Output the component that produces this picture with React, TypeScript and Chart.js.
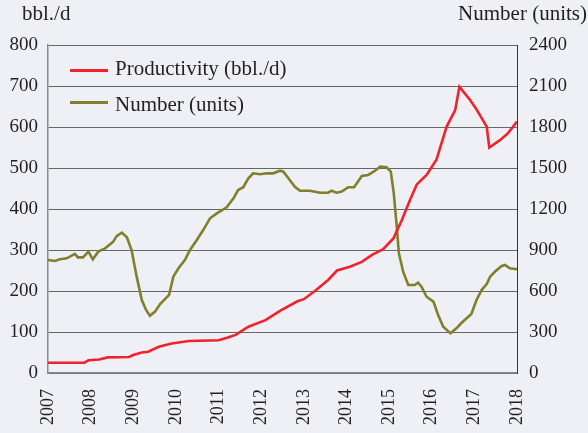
import React, { useEffect, useRef } from "react";
import { Chart, registerables } from "chart.js";

Chart.register(...registerables);

const FONT = "'Liberation Serif', 'Times New Roman', serif";
const TEXT = "#231f20";
const BG = "#eff0f5";
const RED = "#f0222b";
const OLIVE = "#7f7f2c";

const seriesLabels = ["Productivity (bbl./d)", "Number (units)"];
const leftTitle = "bbl./d";
const rightTitle = "Number (units)";

const prodYears = [
  2007.0, 2007.85, 2007.95, 2008.2, 2008.4, 2008.9, 2009.0, 2009.2, 2009.35, 2009.6,
  2009.9, 2010.3, 2011.0, 2011.2, 2011.4, 2011.7, 2012.1, 2012.45, 2012.85, 2013.0,
  2013.26, 2013.57, 2013.78, 2014.08, 2014.36, 2014.6, 2014.86, 2015.1, 2015.3, 2015.49,
  2015.65, 2015.88, 2016.11, 2016.35, 2016.55, 2016.65, 2016.9, 2017.05, 2017.29, 2017.35,
  2017.6, 2017.79, 2018.0,
];
const prodValues = [
  25, 25, 31, 33, 38, 39, 44, 50, 52, 64,
  72, 78, 80, 86, 93, 113, 129, 152, 175, 180,
  200, 227, 250, 259, 271, 288, 302, 328, 373, 422,
  460, 483, 520, 601, 641, 698, 666, 643, 601, 550,
  568, 585, 613,
];

const numYears = [
  2007.0, 2007.16, 2007.28, 2007.44, 2007.63, 2007.7, 2007.82, 2007.95, 2008.05, 2008.18,
  2008.34, 2008.53, 2008.61, 2008.73, 2008.85, 2008.96, 2009.08, 2009.2, 2009.3, 2009.39,
  2009.51, 2009.63, 2009.84, 2009.94, 2010.06, 2010.21, 2010.33, 2010.49, 2010.64, 2010.8,
  2010.96, 2011.19, 2011.35, 2011.46, 2011.58, 2011.7, 2011.81, 2011.97, 2012.13, 2012.28,
  2012.44, 2012.52, 2012.67, 2012.79, 2012.91, 2013.14, 2013.38, 2013.57, 2013.65, 2013.77,
  2013.89, 2014.04, 2014.18, 2014.36, 2014.51, 2014.67, 2014.79, 2014.94, 2015.04, 2015.11,
  2015.18, 2015.23, 2015.33, 2015.45, 2015.6, 2015.68, 2015.76, 2015.88, 2016.04, 2016.15,
  2016.27, 2016.44, 2016.58, 2016.69, 2016.93, 2017.05, 2017.17, 2017.29, 2017.37, 2017.48,
  2017.64, 2017.72, 2017.83, 2018.0,
];
const numValues = [
  827, 820, 832, 839, 871, 846, 846, 888, 832, 888,
  912, 961, 1002, 1027, 993, 900, 705, 534, 461, 419,
  449, 505, 571, 705, 766, 827, 900, 973, 1046, 1132,
  1168, 1212, 1278, 1339, 1359, 1424, 1461, 1454, 1461, 1461,
  1480, 1473, 1412, 1363, 1334, 1334, 1319, 1319, 1334, 1319,
  1327, 1359, 1359, 1441, 1449, 1480, 1510, 1505, 1473, 1315,
  1071, 876, 741, 644, 644, 661, 631, 558, 522, 424,
  339, 290, 327, 364, 432, 534, 607, 651, 705, 741,
  783, 790, 766, 759,
];

const xMin = 2007;
const xMax = 2018;
const leftMax = 800;
const leftStep = 100;
const rightMax = 2400;
const rightStep = 300;

export default function App() {
  const canvasRef = useRef<HTMLCanvasElement | null>(null);

  useEffect(() => {
    const canvas = canvasRef.current;
    if (!canvas) return;
    const tickFont = { family: FONT, size: 19 };
    const plain = (v: any) => String(v);
    const chart = new Chart(canvas, {
      type: "line",
      data: {
        datasets: [
          {
            label: seriesLabels[0],
            data: prodYears.map((x, i) => ({ x, y: prodValues[i] })),
            borderColor: RED,
            backgroundColor: RED,
            borderWidth: 2.6,
            pointRadius: 0,
            tension: 0,
            yAxisID: "y",
          },
          {
            label: seriesLabels[1],
            data: numYears.map((x, i) => ({ x, y: numValues[i] })),
            borderColor: OLIVE,
            backgroundColor: OLIVE,
            borderWidth: 2.6,
            pointRadius: 0,
            tension: 0,
            yAxisID: "y2",
          },
        ],
      },
      options: {
        animation: false,
        responsive: true,
        maintainAspectRatio: false,
        layout: { padding: { top: 45, left: 0, right: 0, bottom: 0 } },
        plugins: {
          legend: { display: false },
          tooltip: { enabled: false },
        },
        scales: {
          x: {
            type: "linear",
            min: xMin,
            max: xMax,
            ticks: {
              stepSize: 1,
              autoSkip: false,
              maxRotation: 90,
              minRotation: 90,
              padding: 16,
              color: TEXT,
              font: { family: FONT, size: 18 },
              callback: plain,
            },
            grid: { color: "transparent", drawTicks: false },
            border: { color: "#8a8a8a", width: 1.5 },
            afterFit: (s: any) => {
              s.height = 60;
            },
          },
          y: {
            position: "left",
            min: 0,
            max: leftMax,
            ticks: { stepSize: leftStep, padding: 10, color: TEXT, font: tickFont, callback: plain },
            grid: { color: "#666666", lineWidth: 1, drawTicks: false },
            border: { color: "#8a8a8a", width: 1.5 },
            afterFit: (s: any) => {
              s.width = 48;
            },
          },
          y2: {
            position: "right",
            min: 0,
            max: rightMax,
            ticks: { stepSize: rightStep, padding: 12, color: TEXT, font: tickFont, callback: plain },
            grid: { color: "transparent", drawTicks: false },
            border: { color: "#333333", width: 1 },
            afterFit: (s: any) => {
              s.width = 71;
            },
          },
        },
      },
    });
    return () => chart.destroy();
  }, []);

  const textStyle: React.CSSProperties = {
    position: "absolute",
    fontFamily: FONT,
    fontSize: 21,
    lineHeight: "21px",
    color: TEXT,
    whiteSpace: "nowrap",
  };
  const colors = [RED, OLIVE];
  const legendTops = [58.4, 94.4];
  const lineTops = [68.8, 101];

  return (
    <div
      style={{
        position: "fixed",
        left: 0,
        top: 0,
        width: 588,
        height: 433,
        background: BG,
        overflow: "hidden",
      }}
    >
      <canvas ref={canvasRef} style={{ display: "block" }} />
      <div style={{ ...textStyle, left: 22, top: 3.4 }}>{leftTitle}</div>
      <div style={{ ...textStyle, right: 1, top: 3.4 }}>{rightTitle}</div>
      {seriesLabels.map((lab, i) => (
        <React.Fragment key={lab}>
          <div
            style={{
              position: "absolute",
              left: 70,
              top: lineTops[i],
              width: 38,
              height: 3,
              background: colors[i],
            }}
          />
          <div style={{ ...textStyle, left: 115, top: legendTops[i] }}>{lab}</div>
        </React.Fragment>
      ))}
    </div>
  );
}
